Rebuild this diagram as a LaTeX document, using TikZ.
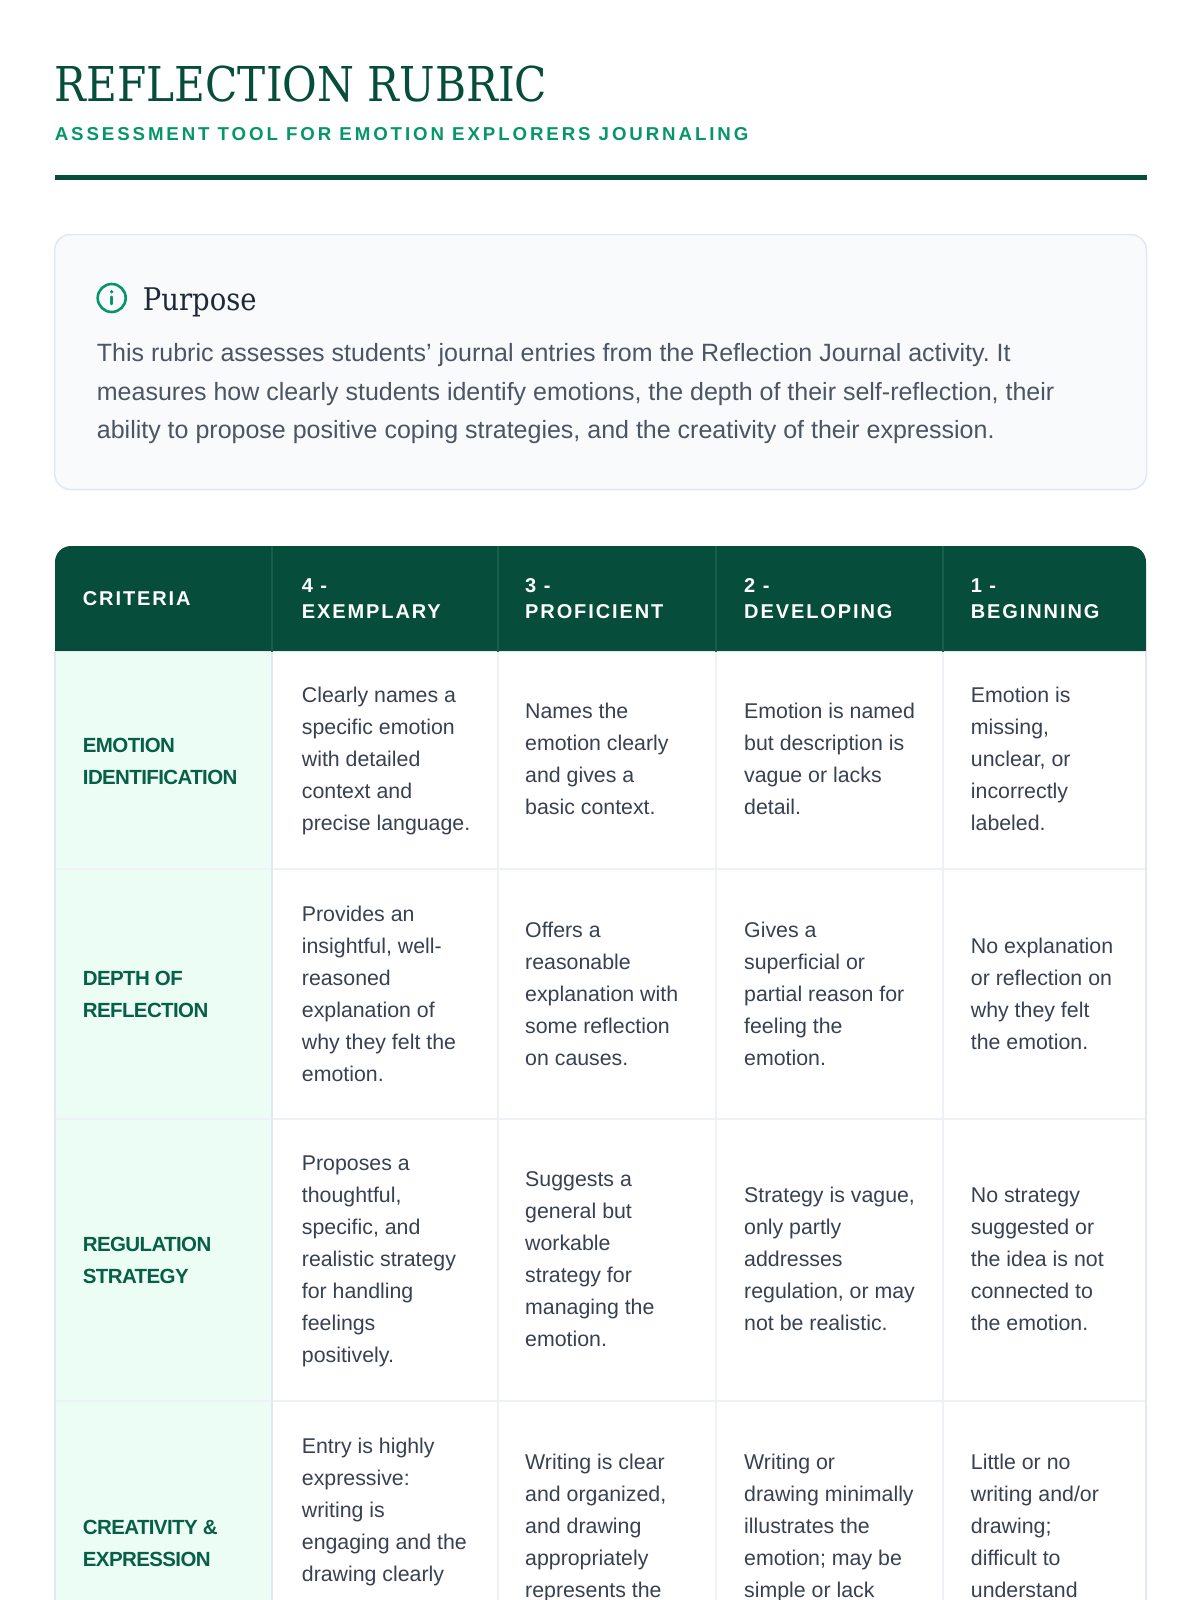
\documentclass[tikz,border=0pt]{standalone}
\usepackage{fontspec}
\setmainfont{Liberation Sans}
\newfontfamily\slabfont[FakeStretch=0.88]{DejaVu Serif}
\newfontfamily\trackfont[LetterSpace=9.5]{Liberation Sans}
\newfontfamily\subfont[LetterSpace=15.6]{Liberation Sans}
\newfontfamily\critfont[LetterSpace=-3]{Liberation Sans}
\usetikzlibrary{positioning}
\frenchspacing
\definecolor{rbGreen}{RGB}{6,78,59}
\definecolor{rbDeep}{RGB}{6,95,70}
\definecolor{rbEmerald}{RGB}{5,150,105}
\definecolor{rbMint}{RGB}{236,253,245}
\definecolor{rbInk}{RGB}{55,65,81}
\definecolor{rbSlate}{RGB}{75,85,99}
\definecolor{rbNavy}{RGB}{31,41,55}
\definecolor{rbPaper}{RGB}{248,250,252}
\definecolor{rbEdge}{RGB}{226,232,240}
\definecolor{rbGrid}{RGB}{238,242,246}
\definecolor{rbSeam}{RGB}{24,94,74}
\tikzset{
    base/.style={inner sep=0pt, align=left, anchor=west, execute at end node=\strut},
    cell/.style={base, text=rbInk, font=\fontsize{21.33}{32}\selectfont},
    crit/.style={base, text=rbDeep, font=\critfont\bfseries\fontsize{20.5}{32}\selectfont},
    head/.style={base, text=white, font=\trackfont\bfseries\fontsize{20}{26.67}\selectfont},
    gridline/.style={draw=rbGrid, line width=1.5pt},
    seam/.style={draw=rbSeam, line width=1.2pt}
}
\begin{document}
\begin{tikzpicture}[x=1pt, y=-1pt]
  \useasboundingbox (0,0) rectangle (1200,1600);
  \clip (0,0) rectangle (1200,1600);
  \fill[white] (0,0) rectangle (1200,1600);

  % Title block
  \node[anchor=base west, inner sep=0pt, text=rbGreen, font=\slabfont\fontsize{48}{56}\selectfont] (title) at (54.6,101.7) {REFLECTION RUBRIC};
  \node[anchor=base west, inner sep=0pt, text=rbEmerald, font=\subfont\bfseries\fontsize{18.67}{24}\selectfont] (subtitle) at (54.6,140) {ASSESSMENT TOOL FOR EMOTION EXPLORERS JOURNALING};
  \fill[rbGreen] (54.6,174.5) rectangle (1146.5,179.5);

  % Purpose box
  \draw[fill=rbPaper, draw=rbEdge, line width=1.5pt, rounded corners=16pt] (54.6,234.5) rectangle (1146.5,489.5);
  \draw[rbEmerald, line width=2.6pt] (111.7,298) circle (14pt);
  \fill[rbEmerald] (111.7,291.8) circle (1.8pt);
  \draw[rbEmerald, line width=2.6pt, line cap=round] (111.7,296.8) -- (111.7,304);
  \node[anchor=base west, inner sep=0pt, text=rbNavy, font=\slabfont\fontsize{31.2}{36}\selectfont] (purpose) at (142.7,310.7) {Purpose};
  \node[base, anchor=north west, text=rbSlate, font=\fontsize{25}{38.4}\selectfont] (purposetext) at (96.7,334.8)
    {\strut This rubric assesses students’ journal entries from the Reflection Journal activity. It\\
     measures how clearly students identify emotions, the depth of their self-reflection, their\\
     ability to propose positive coping strategies, and the creativity of their expression.};

  % Table frame
  \fill[rbGreen, rounded corners=16pt] (55,546) rectangle (1146,680);
  \draw[fill=white, draw=rbEdge, line width=1.5pt] (55,651.7) rectangle (1146,1700);
  \fill[rbMint] (55.8,652.4) rectangle (272,1700);
  \foreach \y in {869,1119,1401}
    \draw[gridline] (55.8,\y) -- (1145.2,\y);
  \draw[draw=rbEdge, line width=1.5pt] (272,651.7) -- (272,1700);
  \foreach \x in {498,716,943}
    \draw[gridline] (\x,651.7) -- (\x,1700);
  \foreach \x in {272,498,716,943}
    \draw[seam] (\x,546) -- (\x,651.7);

  % Header row
  \node[head] (hcrit) at (82.7,600.3) {\strut CRITERIA};
  \node[head] (hfour) at (301.7,600.3) {\strut 4 -\\EXEMPLARY};
  \node[head] (hthree) at (525,600.3) {\strut 3 -\\PROFICIENT};
  \node[head] (htwo) at (744,600.3) {\strut 2 -\\DEVELOPING};
  \node[head] (hone) at (970.7,600.3) {\strut 1 -\\BEGINNING};

  % Emotion identification
  \node[crit] (critemo) at (82.7,762.5) {\strut EMOTION\\IDENTIFICATION};
  \node[cell] (emofour) at (301.7,760.3) {\strut Clearly names a\\specific emotion\\with detailed\\context and\\precise language.};
  \node[cell] (emothree) at (525,760.3) {\strut Names the\\emotion clearly\\and gives a\\basic context.};
  \node[cell] (emotwo) at (744,760.3) {\strut Emotion is named\\but description is\\vague or lacks\\detail.};
  \node[cell] (emoone) at (970.7,760.3) {\strut Emotion is\\missing,\\unclear, or\\incorrectly\\labeled.};

  % Depth of reflection
  \node[crit] (critdepth) at (82.7,995.5) {\strut DEPTH OF\\REFLECTION};
  \node[cell] (depthfour) at (301.7,995.5) {\strut Provides an\\insightful, well-\\reasoned\\explanation of\\why they felt the\\emotion.};
  \node[cell] (depththree) at (525,995.5) {\strut Offers a\\reasonable\\explanation with\\some reflection\\on causes.};
  \node[cell] (depthtwo) at (744,995.5) {\strut Gives a\\superficial or\\partial reason for\\feeling the\\emotion.};
  \node[cell] (depthone) at (970.7,995.5) {\strut No explanation\\or reflection on\\why they felt\\the emotion.};

  % Regulation strategy
  \node[crit] (critreg) at (82.7,1261.5) {\strut REGULATION\\STRATEGY};
  \node[cell] (regfour) at (301.7,1260.5) {\strut Proposes a\\thoughtful,\\specific, and\\realistic strategy\\for handling\\feelings\\positively.};
  \node[cell] (regthree) at (525,1260.5) {\strut Suggests a\\general but\\workable\\strategy for\\managing the\\emotion.};
  \node[cell] (regtwo) at (744,1260.5) {\strut Strategy is vague,\\only partly\\addresses\\regulation, or may\\not be realistic.};
  \node[cell] (regone) at (970.7,1260.5) {\strut No strategy\\suggested or\\the idea is not\\connected to\\the emotion.};

  % Creativity and expression (runs past the page edge)
  \node[crit] (critcre) at (82.7,1544.5) {\strut CREATIVITY \&\\EXPRESSION};
  \node[cell, anchor=north west] (crefour) at (301.7,1430.6) {\strut Entry is highly\\expressive:\\writing is\\engaging and the\\drawing clearly};
  \node[cell, anchor=north west] (crethree) at (525,1446.6) {\strut Writing is clear\\and organized,\\and drawing\\appropriately\\represents the};
  \node[cell, anchor=north west] (cretwo) at (744,1446.6) {\strut Writing or\\drawing minimally\\illustrates the\\emotion; may be\\simple or lack};
  \node[cell, anchor=north west] (creone) at (970.7,1446.6) {\strut Little or no\\writing and/or\\drawing;\\difficult to\\understand};
\end{tikzpicture}
\end{document}
